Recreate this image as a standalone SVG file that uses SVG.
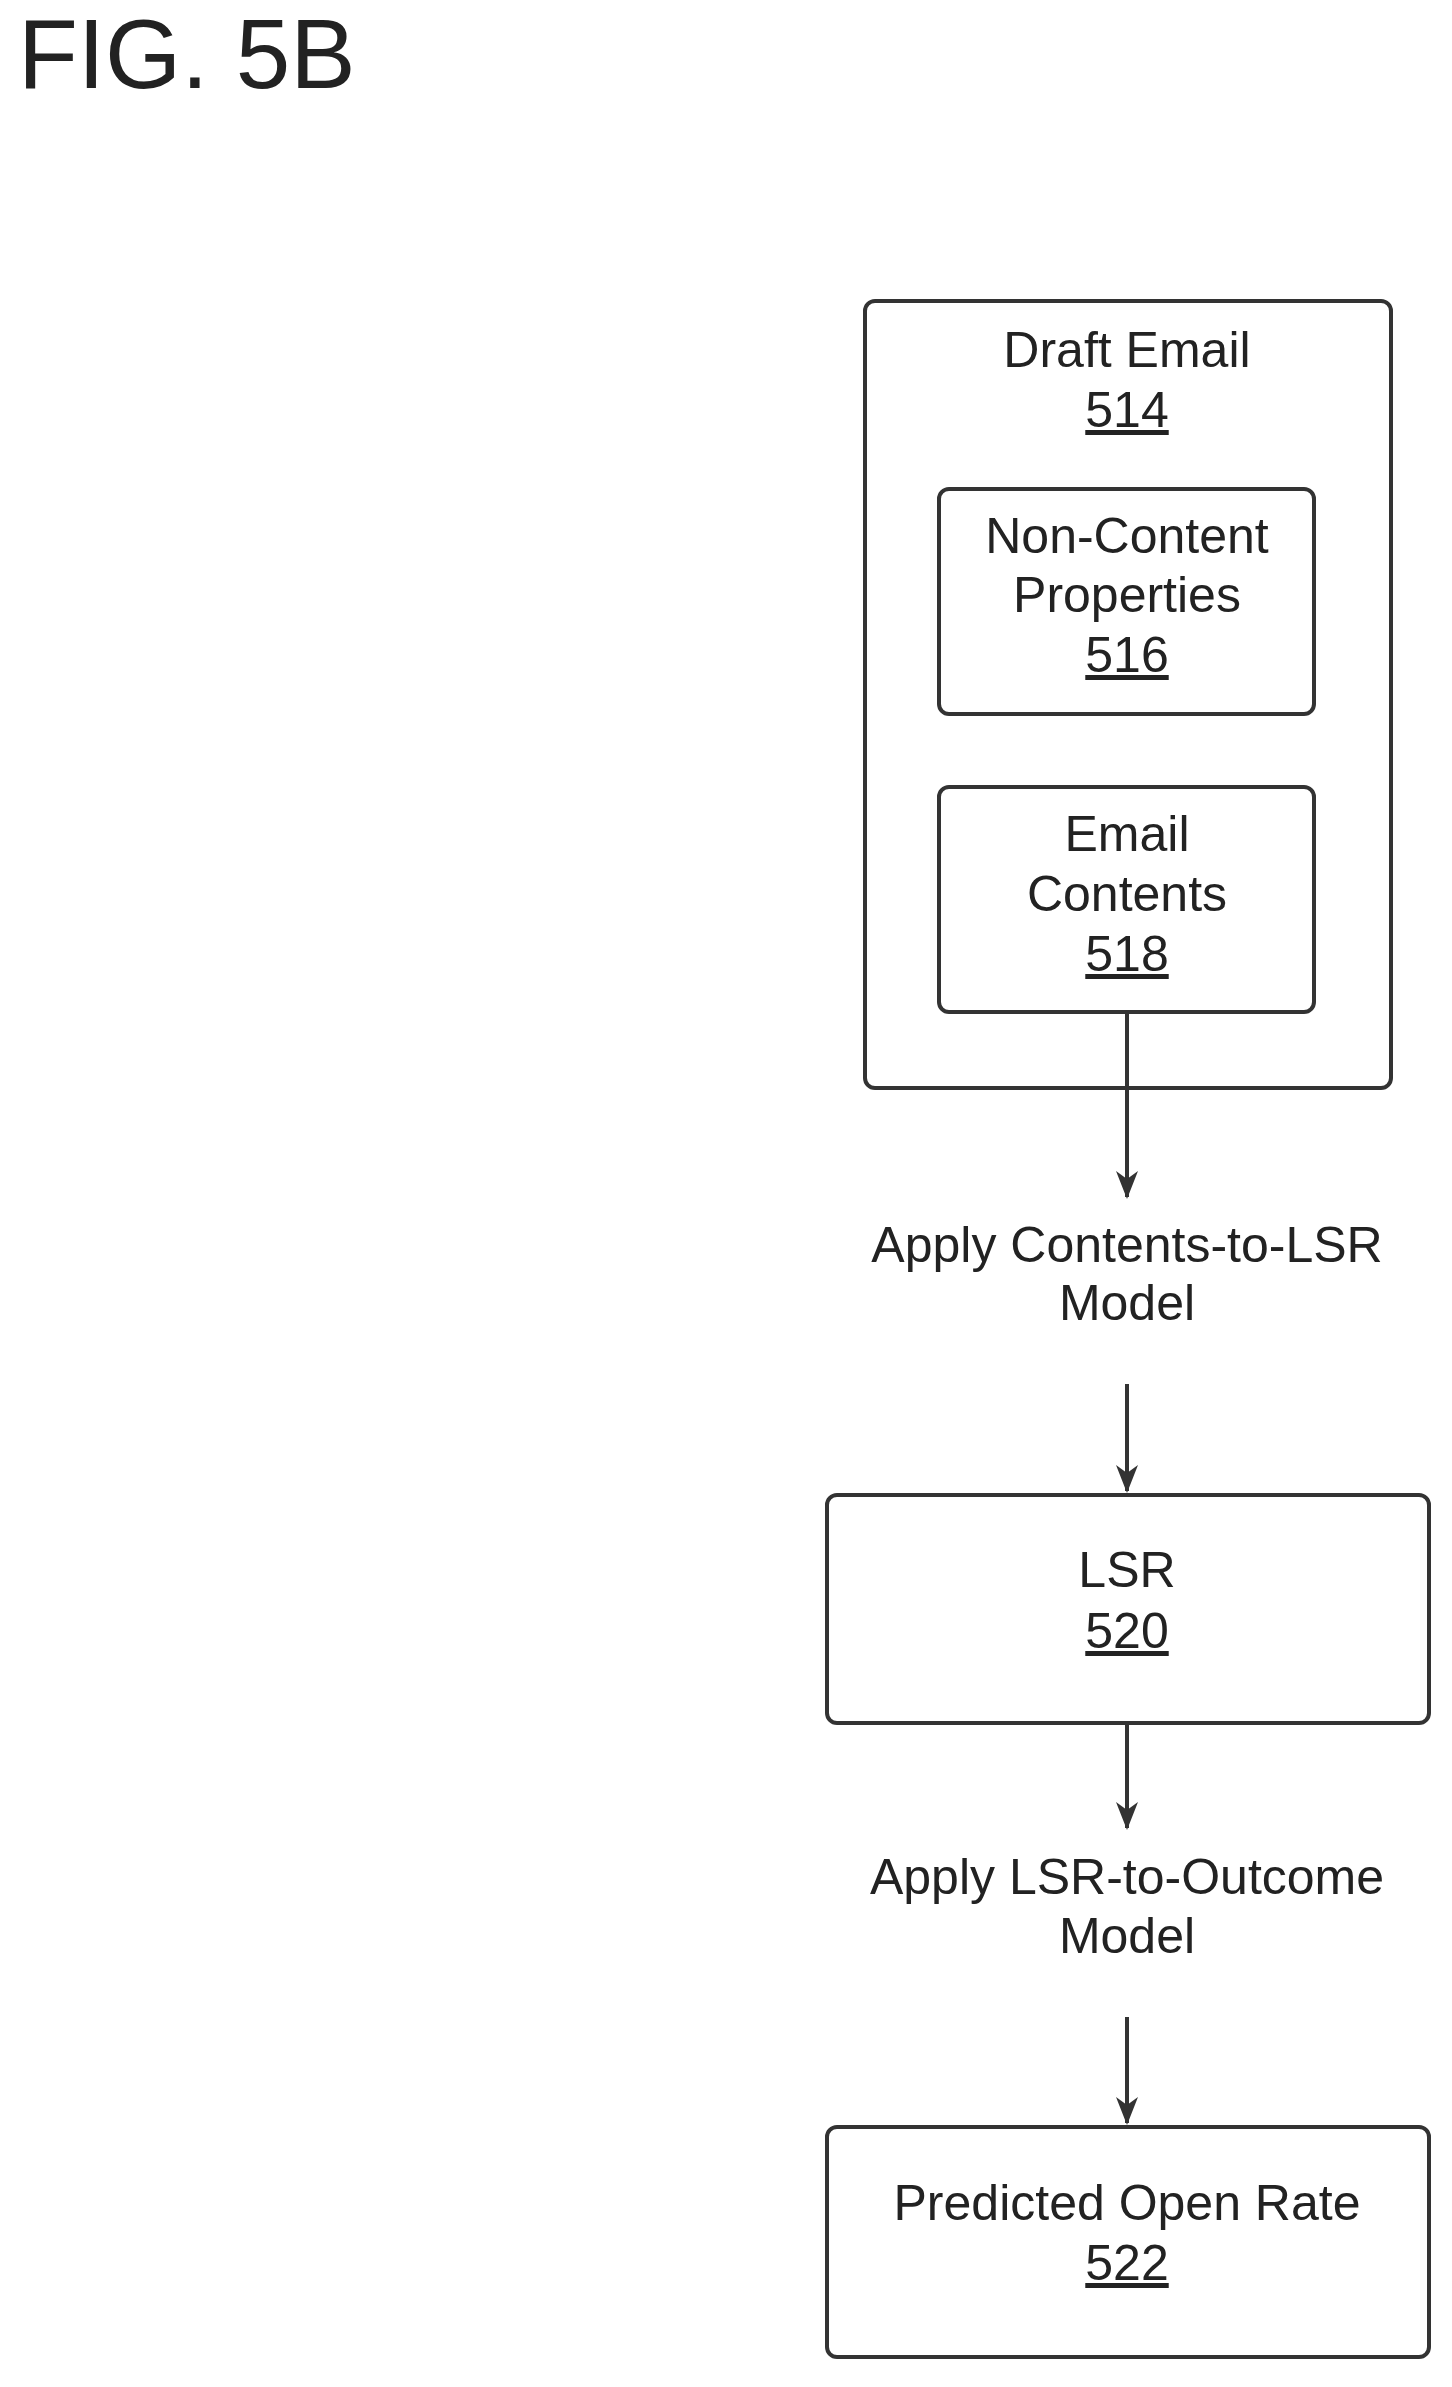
<svg xmlns="http://www.w3.org/2000/svg" width="1452" height="2387" viewBox="0 0 1452 2387">
<defs>
<marker id="ah" markerWidth="28" markerHeight="22" refX="26" refY="11" orient="auto" markerUnits="userSpaceOnUse" viewBox="0 0 28 22"><path d="M0,0 L28,11 L0,22 L8,11 Z" fill="#333"/></marker>
</defs>
<style>
.b{fill:#fff;stroke:#333;stroke-width:4}
text{font-family:"Liberation Sans",Arial,sans-serif;font-size:50px;fill:#222;text-anchor:middle}
.u{text-decoration:underline}
.c{stroke:#333;stroke-width:4;fill:none;marker-end:url(#ah)}
</style>
<rect width="1452" height="2387" fill="#fff"/>
<text x="18" y="88" style="font-size:98px;text-anchor:start">FIG. 5B</text>
<g transform="translate(6,5)">
<g id="n514"><rect class="b" x="859" y="296" width="526" height="787" rx="10"/><text x="1121" y="362">Draft Email</text><text x="1121" y="422" class="u">514</text></g>
<g id="n516"><rect class="b" x="933" y="484" width="375" height="225" rx="10"/><text x="1121" y="548">Non-Content</text><text x="1121" y="607">Properties</text><text x="1121" y="667" class="u">516</text></g>
<g id="n518"><rect class="b" x="933" y="782" width="375" height="225" rx="10"/><text x="1121" y="846">Email</text><text x="1121" y="906">Contents</text><text x="1121" y="966" class="u">518</text></g>
<g id="l1"><text x="1121" y="1257">Apply Contents-to-LSR</text><text x="1121" y="1315">Model</text></g>
<g id="n520"><rect class="b" x="821" y="1490" width="602" height="228" rx="10"/><text x="1121" y="1582">LSR</text><text x="1121" y="1643" class="u">520</text></g>
<g id="l2"><text x="1121" y="1889">Apply LSR-to-Outcome</text><text x="1121" y="1948">Model</text></g>
<g id="n522"><rect class="b" x="821" y="2122" width="602" height="230" rx="10"/><text x="1121" y="2215">Predicted Open Rate</text><text x="1121" y="2275" class="u">522</text></g>
<g id="connectors">
<line class="c" x1="1121" y1="1007" x2="1121" y2="1192"/>
<line class="c" x1="1121" y1="1379" x2="1121" y2="1486"/>
<line class="c" x1="1121" y1="1718" x2="1121" y2="1823"/>
<line class="c" x1="1121" y1="2012" x2="1121" y2="2118"/>
</g>
</g>
</svg>
